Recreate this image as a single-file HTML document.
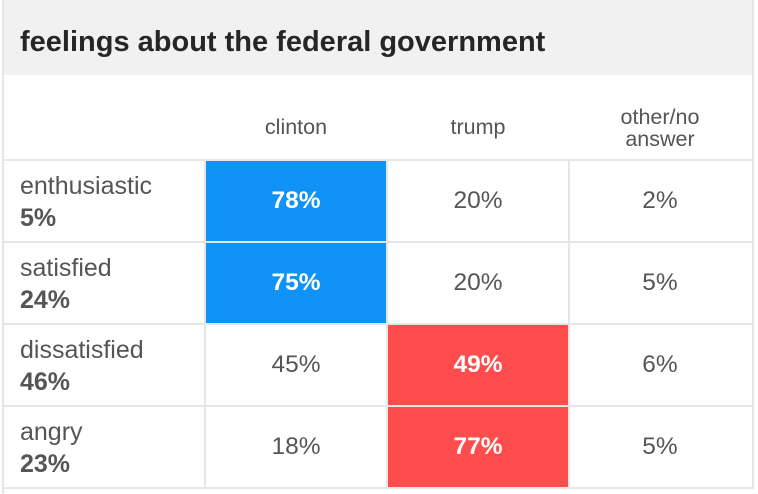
<!DOCTYPE html>
<html><head><meta charset="utf-8"><style>
body{margin:0;width:758px;height:494px;background:#fff;font-family:"Liberation Sans",sans-serif;position:relative;overflow:hidden}
.abs{position:absolute}
#hdr{left:2px;top:0;width:752px;height:75px;background:#f1f1f1}
#title{left:20px;top:26px;font-size:29px;font-weight:bold;color:#262626}
.vl{background:#e6e6e6;width:2px}
.hl{background:#e6e6e6;height:2px}
.colh{font-size:21.5px;color:#555;text-align:center;line-height:22px}
.cell{display:flex;align-items:center;justify-content:center;font-size:24.5px;color:#555}
.lab{font-size:25px;color:#555;line-height:32px}
</style></head><body>
<div id="hdr" class="abs"></div>
<div id="title" class="abs">feelings about the federal government</div>
<div id="tbl"></div>
<script>
const candidates=["clinton","trump","other/no<br>answer"];
const feelings=["enthusiastic","satisfied","dissatisfied","angry"];
const feelingShares=[5,24,46,23];
const clintonVals=[78,75,45,18];
const trumpVals=[20,20,49,77];
const otherVals=[2,5,6,5];
const series=[clintonVals,trumpVals,otherVals];
const colX=[206,388,570], colW=180, rowY=[161,243,325,407], rowH=80;
const root=document.getElementById('tbl');
function mk(cls,css,html){const d=document.createElement('div');d.className='abs '+cls;d.style.cssText=css;if(html!==undefined)d.innerHTML=html;root.appendChild(d);return d;}
candidates.forEach((c,i)=>{const d=mk('colh',`left:${colX[i]}px;width:${colW}px;top:${i==2?106:116}px`,c);

});
feelings.forEach((f,r)=>{
 const l=mk('lab',`left:20px;top:${rowY[r]+9}px`,f+'<br><b>'+feelingShares[r]+'%</b>');
 
 
 let mx=Math.max(clintonVals[r],trumpVals[r],otherVals[r]);
 series.forEach((s,c)=>{
  const win=s[r]===mx&&c<2;
  const bg=win?(c==0?'#1193f5':'#ff4d4d'):'#fff';
  const d=mk('cell',`left:${colX[c]}px;top:${rowY[r]}px;width:${colW}px;height:${rowH}px;background:${bg};${win?'color:#fff;font-weight:bold;':''}`,s[r]+'%');
  
  
 });
});
[2,204,386,568,752].forEach((x,i)=>{const d=mk('vl',`left:${x}px;top:${i==0||i==4?0:159}px;height:${i==0?494:(i==4?489:330)}px`);

});
[159,241,323,405,487].forEach(y=>{const d=mk('hl',`left:2px;top:${y}px;width:752px`);

});
</script>
</body></html>
